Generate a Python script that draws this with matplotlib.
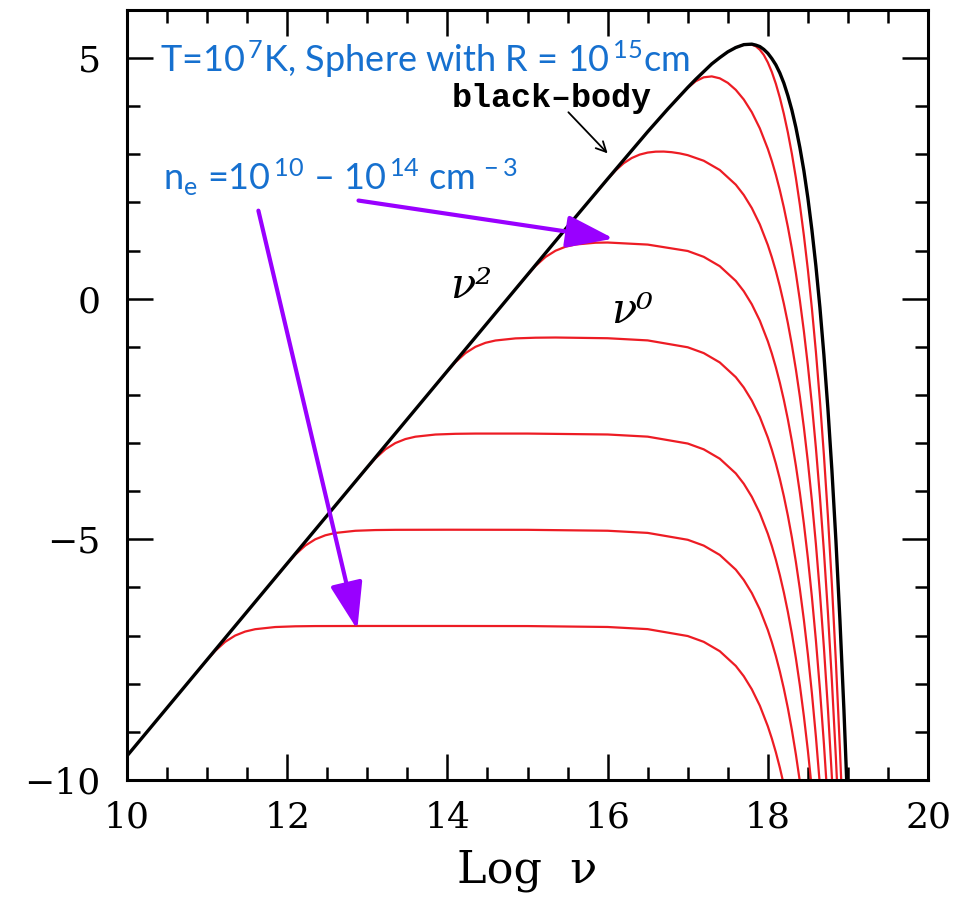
import matplotlib
matplotlib.use("Agg")
import matplotlib.pyplot as plt
from matplotlib.ticker import MultipleLocator
from matplotlib import font_manager

names = sorted({f.name for f in font_manager.fontManager.ttflist})
narrow = 'Liberation Sans Narrow' if 'Liberation Sans Narrow' in names else 'Lato'

plt.rcParams['mathtext.fontset'] = 'custom'
plt.rcParams['mathtext.rm'] = narrow
plt.rcParams['mathtext.it'] = narrow

# black-body curve (log nu, log intensity)
bb_logv = [10.0, 12.0, 14.0, 15.0, 15.5, 16.0, 16.25, 16.5, 16.75, 17.0, 17.1, 17.2, 17.3, 17.4,
           17.5, 17.6, 17.7, 17.8, 17.85, 17.9, 17.95, 18.0, 18.05, 18.1, 18.15, 18.2, 18.25,
           18.3, 18.35, 18.4, 18.45, 18.5, 18.55, 18.6, 18.65, 18.7, 18.75, 18.8, 18.85, 18.9,
           18.95, 19.0]
bb_logI = [-9.5, -5.5, -1.5, 0.5, 1.5, 2.49, 2.98, 3.47, 3.94, 4.39, 4.56, 4.72, 4.88, 5.01,
           5.13, 5.22, 5.28, 5.29, 5.27, 5.24, 5.18, 5.10, 4.99, 4.86, 4.69, 4.48, 4.22,
           3.92, 3.56, 3.14, 2.66, 2.09, 1.43, 0.68, -0.18, -1.17, -2.29, -3.57, -5.03, -6.68,
           -8.55, -10.67]

# red curves, one per density, lowest first
ne1_logv = [10.85, 10.975, 11.1, 11.225, 11.35, 11.475, 11.6, 11.85, 12.1, 12.35, 13.0, 14.0, 15.0,
            16.0, 16.5, 17.0, 17.2, 17.4, 17.6, 17.7, 17.8, 17.9, 18.0, 18.05, 18.1, 18.15, 18.2]
ne1_logI = [-7.80, -7.552, -7.319, -7.130, -6.999, -6.916, -6.867, -6.822, -6.807, -6.802, -6.80,
            -6.80, -6.802, -6.821, -6.866, -7.009, -7.130, -7.324, -7.630, -7.845, -8.116, -8.456,
            -8.885, -9.139, -9.424, -9.745, -10.104]

ne2_logv = [11.85, 11.975, 12.1, 12.225, 12.35, 12.475, 12.6, 12.85, 13.1, 13.35, 14.0, 15.0, 16.0,
            16.5, 17.0, 17.2, 17.4, 17.6, 17.7, 17.8, 17.9, 18.0, 18.05, 18.1, 18.15, 18.2, 18.25,
            18.3, 18.35, 18.4]
ne2_logI = [-5.80, -5.552, -5.319, -5.130, -4.999, -4.916, -4.867, -4.822, -4.807, -4.802, -4.80,
            -4.802, -4.821, -4.866, -5.009, -5.130, -5.324, -5.630, -5.845, -6.116, -6.456, -6.885,
            -7.139, -7.424, -7.745, -8.104, -8.507, -8.959, -9.468, -10.036]

ne3_logv = [12.85, 12.975, 13.1, 13.225, 13.35, 13.475, 13.6, 13.85, 14.1, 14.35, 15.0, 16.0, 16.5,
            17.0, 17.2, 17.4, 17.6, 17.7, 17.8, 17.9, 18.0, 18.05, 18.1, 18.15, 18.2, 18.25, 18.3,
            18.35, 18.4, 18.45, 18.5, 18.55]
ne3_logI = [-3.80, -3.552, -3.319, -3.130, -2.999, -2.916, -2.867, -2.822, -2.807, -2.802, -2.802,
            -2.821, -2.866, -3.009, -3.130, -3.324, -3.630, -3.845, -4.116, -4.456, -4.885, -5.139,
            -5.424, -5.745, -6.104, -6.507, -6.959, -7.468, -8.036, -8.675, -9.392, -10.197]

ne4_logv = [13.85, 13.975, 14.1, 14.225, 14.35, 14.475, 14.6, 14.85, 15.1, 15.35, 16.0, 16.5, 17.0,
            17.2, 17.4, 17.6, 17.7, 17.8, 17.9, 18.0, 18.05, 18.1, 18.15, 18.2, 18.25, 18.3, 18.35,
            18.4, 18.45, 18.5, 18.55, 18.6, 18.65]
ne4_logI = [-1.80, -1.552, -1.319, -1.130, -0.999, -0.916, -0.868, -0.824, -0.810, -0.806, -0.821,
            -0.866, -1.009, -1.130, -1.324, -1.630, -1.845, -2.116, -2.456, -2.885, -3.139, -3.424,
            -3.745, -4.104, -4.507, -4.959, -5.468, -6.036, -6.675, -7.392, -8.197, -9.099, -10.112]

ne5_logv = [14.85, 14.975, 15.1, 15.225, 15.35, 15.475, 15.6, 15.85, 16.0, 16.5, 17.0, 17.2, 17.4,
            17.6, 17.7, 17.8, 17.9, 18.0, 18.05, 18.1, 18.15, 18.2, 18.25, 18.3, 18.35, 18.4, 18.45,
            18.5, 18.55, 18.6, 18.65, 18.7, 18.75]
ne5_logI = [0.20, 0.448, 0.681, 0.868, 0.998, 1.081, 1.127, 1.164, 1.168, 1.125, 0.992, 0.870,
            0.676, 0.370, 0.155, -0.116, -0.456, -0.885, -1.139, -1.424, -1.745, -2.104, -2.507,
            -2.959, -3.468, -4.036, -4.675, -5.392, -6.197, -7.099, -8.112, -9.247, -10.520]

ne6_logv = [15.85, 15.95, 16.0, 16.1, 16.2, 16.3, 16.4, 16.5, 16.6, 16.7, 16.8, 16.9, 17.0, 17.2,
            17.4, 17.6, 17.7, 17.8, 17.9, 18.0, 18.05, 18.1, 18.15, 18.2, 18.25, 18.3, 18.35, 18.4,
            18.45, 18.5, 18.55, 18.6, 18.65, 18.7, 18.75, 18.8, 18.85]
ne6_logI = [2.19, 2.39, 2.486, 2.666, 2.815, 2.923, 2.995, 3.037, 3.056, 3.058, 3.045, 3.020, 2.983,
            2.867, 2.675, 2.370, 2.155, 1.884, 1.544, 1.115, 0.861, 0.576, 0.255, -0.104, -0.507,
            -0.959, -1.468, -2.036, -2.675, -3.392, -4.197, -5.099, -6.112, -7.247, -8.52, -9.953,
            -11.557]

ne7_logv = [16.85, 17.0, 17.1, 17.2, 17.3, 17.4, 17.5, 17.6, 17.7, 17.8, 17.9, 18.0, 18.05, 18.1,
            18.15, 18.2, 18.25, 18.3, 18.35, 18.4, 18.45, 18.5, 18.55, 18.6, 18.65, 18.7, 18.75,
            18.8, 18.85, 18.9]
ne7_logI = [4.124, 4.383, 4.52, 4.601, 4.620, 4.580, 4.486, 4.340, 4.139, 3.876, 3.540, 3.113,
            2.860, 2.576, 2.255, 1.896, 1.493, 1.041, 0.532, -0.036, -0.675, -1.392, -2.197, -3.099,
            -4.112, -5.247, -6.52, -7.953, -9.557, -11.358]

ne8_logv = [17.6, 17.7, 17.8, 17.85, 17.9, 17.95, 18.0, 18.05, 18.1, 18.15, 18.2, 18.25, 18.3, 18.35,
            18.4, 18.45, 18.5, 18.55, 18.6, 18.65, 18.7, 18.75, 18.8, 18.85, 18.9, 18.95]
ne8_logI = [5.221, 5.277, 5.279, 5.245, 5.174, 5.064, 4.909, 4.711, 4.467, 4.177, 3.840, 3.454,
            3.012, 2.512, 1.950, 1.315, 0.601, -0.202, -1.103, -2.115, -3.249, -4.521, -5.953,
            -7.557, -9.358, -11.379]

red_curves = [(ne1_logv, ne1_logI), (ne2_logv, ne2_logI), (ne3_logv, ne3_logI),
              (ne4_logv, ne4_logI), (ne5_logv, ne5_logI), (ne6_logv, ne6_logI),
              (ne7_logv, ne7_logI), (ne8_logv, ne8_logI)]

purple = '#9900ff'
blue = '#1670cf'
red = '#ed1c24'
serif = 'DejaVu Serif'

fig = plt.figure(figsize=(9.63, 8.99), dpi=100)
ax = fig.add_axes([0.1319, 0.1324, 0.8318, 0.8565])

for lv, li in red_curves:
    ax.plot(lv, li, color=red, lw=1.6, zorder=2)
ax.plot(bb_logv, bb_logI, color='black', lw=2.4, zorder=3)

ax.set_xlim(10, 20)
ax.set_ylim(-10, 6)
ax.xaxis.set_major_locator(MultipleLocator(2))
ax.xaxis.set_minor_locator(MultipleLocator(0.5))
ax.yaxis.set_major_locator(MultipleLocator(5))
ax.yaxis.set_minor_locator(MultipleLocator(1))
ax.tick_params(which='both', direction='in', top=True, right=True, width=1.8)
ax.tick_params(which='major', length=18.5, labelsize=26)
ax.tick_params(axis='x', which='major', pad=15)
ax.tick_params(axis='y', which='major', pad=19)
ax.tick_params(which='minor', length=9.5)
for lab in ax.get_xticklabels() + ax.get_yticklabels():
    lab.set_family(serif)
for sp in ax.spines.values():
    sp.set_linewidth(2.2)

ax.set_xlabel('Log  ν', family=serif, fontsize=32, labelpad=10)

# labels on the curves
ax.text(15.3, 4.17, 'black–body', family='Liberation Mono', fontweight='bold',
        fontsize=24, ha='center', va='center')
ax.annotate('', xy=(16.0, 3.02), xytext=(15.51, 3.875),
            arrowprops=dict(arrowstyle='->', color='black', lw=1.3,
                            shrinkA=0, shrinkB=0, mutation_scale=18))
ax.text(14.3, 0.27, 'ν²', family=serif, fontstyle='italic', fontsize=30,
        ha='center', va='center')
ax.text(16.3, -0.25, 'ν⁰', family=serif, fontstyle='italic', fontsize=30,
        ha='center', va='center')

ax.text(10.41, 4.71, r'T=10$^{\,7}$K, Sphere with R = 10$^{\,15}$cm', color=blue,
        family=narrow, fontsize=26, ha='left', va='baseline')
ax.text(10.45, 2.25, r'n$_{\mathrm{e}}$ =10$^{\,10}$ – 10$^{\,14}$ cm$^{\,-3}$', color=blue,
        family=narrow, fontsize=26, ha='left', va='baseline')

arrow_style = dict(arrowstyle='-|>,head_length=1.45,head_width=0.5', color=purple,
                   lw=3, shrinkA=0, shrinkB=0, mutation_scale=20)
ax.annotate('', xy=(12.875, -6.875), xytext=(11.64, 1.83), arrowprops=arrow_style, zorder=5)
ax.annotate('', xy=(16.075, 1.25), xytext=(12.89, 2.04), arrowprops=arrow_style, zorder=5)

fig.savefig('out.png', dpi=100)
